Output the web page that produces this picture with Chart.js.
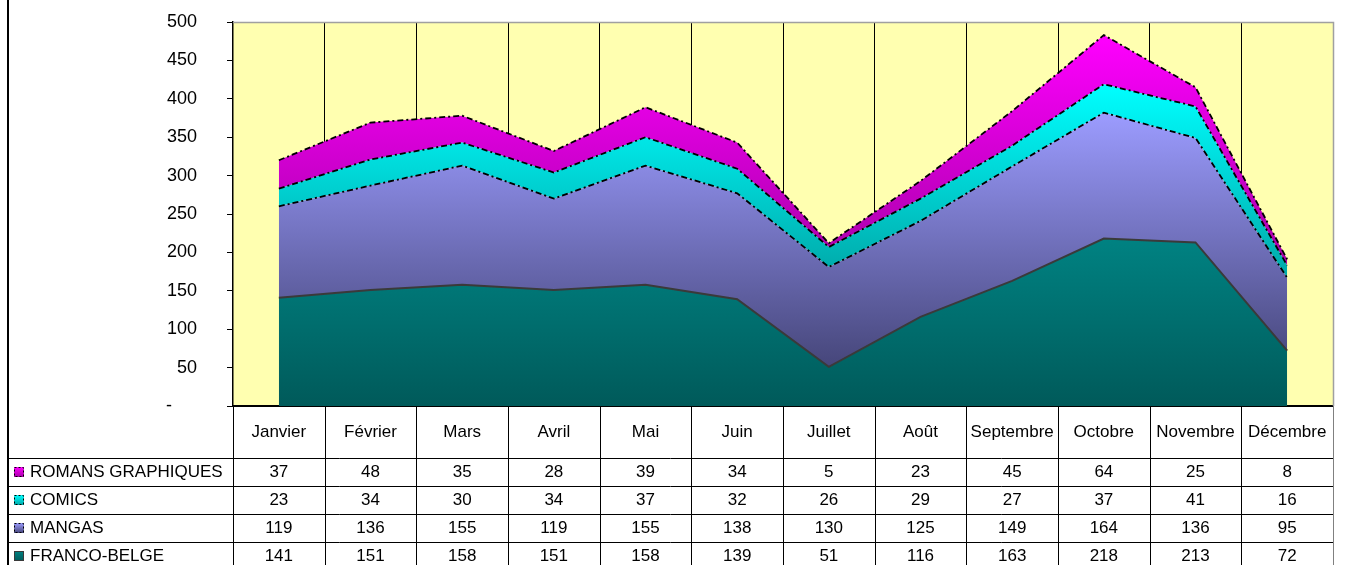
<!DOCTYPE html>
<html lang="fr">
<head>
<meta charset="UTF-8">
<title>Ventes BD par mois</title>
<script src="https://cdn.jsdelivr.net/npm/chart.js"></script>
<style>
    body { margin: 0; background: #fff; }
    .wrap { position: relative; width: 1357px; height: 565px; }
</style>
</head>
<body>
<div class="wrap"><canvas id="areaChart"></canvas></div>
<script>
    const months = ['Janvier', 'Février', 'Mars', 'Avril', 'Mai', 'Juin', 'Juillet', 'Août', 'Septembre', 'Octobre', 'Novembre', 'Décembre'];
    const francoBelge = [141, 151, 158, 151, 158, 139, 51, 116, 163, 218, 213, 72];
    const mangas = [119, 136, 155, 119, 155, 138, 130, 125, 149, 164, 136, 95];
    const comics = [23, 34, 30, 34, 37, 32, 26, 29, 27, 37, 41, 16];
    const romans = [37, 48, 35, 28, 39, 34, 5, 23, 45, 64, 25, 8];
    const yTicks = [0, 50, 100, 150, 200, 250, 300, 350, 400, 450, 500];

    const FONT = '17px "Liberation Sans", Arial, sans-serif';

    // stacked series, bottom to top
    const series = [
        { label: 'FRANCO-BELGE', data: francoBelge, top: '#008282', bottom: '#005a5a', line: '#3a3a3a', dash: [] },
        { label: 'MANGAS', data: mangas, top: '#9c9cff', bottom: '#46467a', line: '#000', dash: [6, 3, 2, 3] },
        { label: 'COMICS', data: comics, top: '#00ffff', bottom: '#00a8a8', line: '#000', dash: [6, 3, 2, 3] },
        { label: 'ROMANS GRAPHIQUES', data: romans, top: '#ff00ff', bottom: '#a800a8', line: '#000', dash: [6, 3, 2, 3] }
    ];

    // cumulative tops/bases for gradient extents
    const bases = [];
    const tops = [];
    let acc = months.map(() => 0);
    series.forEach(s => {
        bases.push(acc.slice());
        acc = acc.map((v, i) => v + s.data[i]);
        tops.push(acc.slice());
    });

    function makeFill(idx) {
        return function (ctx) {
            const chart = ctx.chart;
            if (!chart.chartArea) return series[idx].top;
            const y = chart.scales.y;
            const y0 = y.getPixelForValue(Math.max(...tops[idx]));
            const y1 = y.getPixelForValue(Math.min(...bases[idx]));
            const g = chart.ctx.createLinearGradient(0, y0, 0, y1);
            g.addColorStop(0, series[idx].top);
            g.addColorStop(1, series[idx].bottom);
            return g;
        };
    }

    const frameAndTable = {
        id: 'frameAndTable',
        beforeDraw(chart) {
            const { ctx, chartArea: a } = chart;
            ctx.save();
            ctx.fillStyle = '#ffffb0';
            ctx.fillRect(a.left, a.top, a.right - a.left, a.bottom - a.top);
            ctx.restore();
        },
        afterDraw(chart) {
            const { ctx, chartArea: a, scales } = chart;
            const x = scales.x;
            const colW = (a.right - a.left) / months.length;
            const rowTop = [a.bottom, 458, 486, 514, 542];
            const rowH = [458 - a.bottom, 28, 28, 28, 28];
            const H = chart.height;
            ctx.save();

            // plot frame top/right
            ctx.strokeStyle = '#a0a0a0';
            ctx.lineWidth = 1.5;
            ctx.beginPath();
            ctx.moveTo(a.left, a.top + 0.5);
            ctx.lineTo(a.right + 0.5, a.top + 0.5);
            ctx.lineTo(a.right + 0.5, a.bottom);
            ctx.stroke();

            // outer left frame
            ctx.strokeStyle = '#000';
            ctx.lineWidth = 2;
            ctx.beginPath();
            ctx.moveTo(8, 0);
            ctx.lineTo(8, H);
            ctx.stroke();

            // table lines
            ctx.lineWidth = 1;
            ctx.strokeStyle = '#000';
            ctx.beginPath();
            for (let r = 1; r < rowTop.length; r++) {
                ctx.moveTo(8, rowTop[r] + 0.5);
                ctx.lineTo(a.right, rowTop[r] + 0.5);
            }
            ctx.moveTo(a.left + 0.5, a.bottom);
            ctx.lineTo(a.left + 0.5, H);
            for (let c = 1; c < months.length; c++) {
                const px = Math.round(a.left + c * colW) + 0.5;
                ctx.moveTo(px, a.bottom);
                ctx.lineTo(px, H);
            }
            ctx.stroke();
            ctx.strokeStyle = '#808080';
            ctx.beginPath();
            ctx.moveTo(a.right + 0.5, a.bottom);
            ctx.lineTo(a.right + 0.5, H);
            ctx.stroke();

            // texts
            ctx.fillStyle = '#000';
            ctx.font = FONT;
            ctx.textAlign = 'center';
            ctx.textBaseline = 'middle';
            months.forEach((m, i) => {
                ctx.fillText(m, x.getPixelForValue(i), rowTop[0] + rowH[0] / 2);
            });
            const order = [3, 2, 1, 0];
            order.forEach((si, r) => {
                const cy = rowTop[r + 1] + 14;
                ctx.textAlign = 'center';
                series[si].data.forEach((v, i) => {
                    ctx.fillText(String(v), x.getPixelForValue(i), cy);
                });
                // legend key
                const g = ctx.createLinearGradient(0, cy - 5, 0, cy + 5);
                g.addColorStop(0, series[si].top);
                g.addColorStop(1, series[si].bottom);
                ctx.fillStyle = g;
                ctx.fillRect(14, cy - 5, 10, 10);
                ctx.strokeStyle = series[si].line;
                ctx.setLineDash(series[si].dash.length ? [2, 2] : []);
                ctx.strokeRect(14.5, cy - 4.5, 9, 9);
                ctx.setLineDash([]);
                ctx.fillStyle = '#000';
                ctx.textAlign = 'left';
                ctx.fillText(series[si].label, 30, cy);
            });
            ctx.restore();
        }
    };

    new Chart(document.getElementById('areaChart'), {
        type: 'line',
        data: {
            labels: months,
            datasets: series.map((s, i) => ({
                label: s.label,
                data: s.data,
                fill: i === 0 ? 'origin' : '-1',
                backgroundColor: makeFill(i),
                borderColor: s.line,
                borderWidth: i === 0 ? 2 : 1.8,
                borderDash: s.dash,
                pointRadius: 0,
                tension: 0
            }))
        },
        options: {
            responsive: true,
            maintainAspectRatio: false,
            animation: false,
            layout: { padding: { left: 0, right: 24, top: 22, bottom: 159 } },
            plugins: { legend: { display: false }, tooltip: { enabled: false } },
            scales: {
                x: {
                    offset: true,
                    grid: {
                        offset: true,
                        drawOnChartArea: true,
                        tickLength: 0,
                        color: (c) => c.index === months.length ? '#a0a0a0' : '#000',
                        lineWidth: 1
                    },
                    border: { color: '#000', width: 2 },
                    ticks: { display: false },
                    afterFit(scale) { scale.height = 0; }
                },
                y: {
                    stacked: true,
                    min: 0,
                    max: 500,
                    afterBuildTicks(scale) { scale.ticks = yTicks.map(v => ({ value: v })); },
                    grid: { drawOnChartArea: false, tickLength: 6, color: '#000' },
                    border: { color: '#000', width: 1.5 },
                    ticks: {
                        color: '#000',
                        font: { family: '"Liberation Sans", Arial, sans-serif', size: 18 },
                        padding: 5,
                        // trailing blanks push the labels away from the axis, like the original
                        callback: (v) => v === 0 ? '-          ' : v + '     '
                    },
                    afterFit(scale) { scale.width = 233; }
                }
            }
        },
        plugins: [frameAndTable]
    });
</script>
</body>
</html>
